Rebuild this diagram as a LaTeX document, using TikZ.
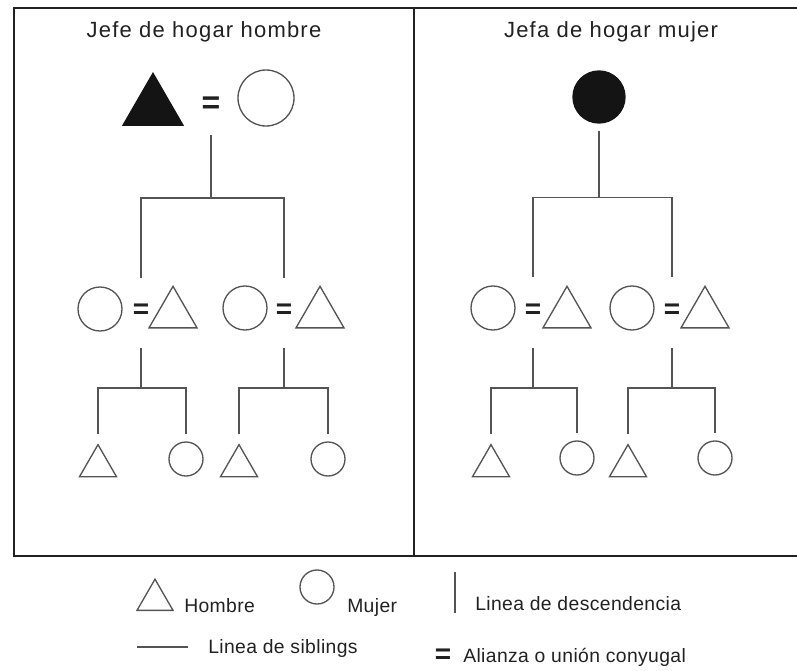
\documentclass[tikz,border=0pt]{standalone}
\usepackage{fontspec}
\setmainfont{Liberation Sans}
\newfontfamily\titulofont[LetterSpace=5.5]{Liberation Sans}
\newfontfamily\leyendafont[LetterSpace=2]{Liberation Sans}
\usepackage{tikz}
\usetikzlibrary{shapes,shapes.geometric}
\usetikzlibrary{calc,positioning}

\begin{document}
\begin{tikzpicture}[x=0.75pt,y=-0.75pt,
	hombre/.style={regular polygon,regular polygon sides=3,draw=trazo,line width=1pt,inner sep=0pt,minimum size=#1*0.75pt},
	mujer/.style={circle,draw=trazo,line width=1pt,inner sep=0pt,minimum size=#1*0.75pt},
	union/.style={inner sep=0pt,text=tinta,font=\fontsize{#1}{#1}\selectfont\bfseries},
	lazo/.style={draw=trazo,line width=0.9pt},
	marco/.style={draw=tinta,line width=1.5pt},
	titulo/.style={inner sep=0pt,text=tinta,font=\titulofont\fontsize{16.5}{19}\selectfont},
	leyenda/.style={inner sep=0pt,text=tinta,anchor=base west,font=\leyendafont\fontsize{14.5}{17}\selectfont}]
			\definecolor{tinta}{rgb}{0.13,0.13,0.13}
			\definecolor{trazo}{rgb}{0.33,0.33,0.33}
			\definecolor{negro}{rgb}{0.08,0.08,0.08}
				\useasboundingbox (0,0) rectangle (797,671);
				\draw [marco] (797,8) -- (14,8) -- (14,556) -- (797,556);
				\draw [marco] (414,8) -- (414,556);
			
				\node [titulo] (tL) at (204,32) {Jefe de hogar hombre};
				\node [hombre=69.3,fill=negro,draw=negro] (hL0) at (153,108) {};
				\node [union=24] (uL0) at (211,105) {=};
				\node [mujer=56] (mL0) at (266,98) {};
				\node [mujer=44] (mL1) at (100,309) {};
				\node [union=21] (uL1) at (141,311) {=};
				\node [hombre=55.4] (hL1) at (173,314) {};
				\node [mujer=44] (mL2) at (245,308) {};
				\node [union=21] (uL2) at (284,311) {=};
				\node [hombre=55.4] (hL2) at (320,314) {};
				\node [hombre=42.7] (hL3) at (98,466) {};
				\node [mujer=34] (mL3) at (186,459) {};
				\node [hombre=42.7] (hL4) at (239,466) {};
				\node [mujer=34] (mL4) at (328,459) {};
				\draw [lazo] (uL0) ++(0,30) -- ++(0,63) coordinate (barL0);
				\draw [lazo] ($(uL1)+(0,-33)$) |- (barL0) -| ($(uL2)+(0,-33)$);
				\draw [lazo] (uL1) ++(0,37) -- ++(0,40) coordinate (barL1);
				\draw [lazo] ($(hL3.north)+(0,-9)$) |- (barL1) -| ($(mL3.north)+(0,-7)$);
				\draw [lazo] (uL2) ++(0,37) -- ++(0,40) coordinate (barL2);
				\draw [lazo] ($(hL4.north)+(0,-9)$) |- (barL2) -| ($(mL4.north)+(0,-7)$);
			
				\node [titulo] (tR) at (611,32) {Jefa de hogar mujer};
				\node [mujer=52,fill=negro,draw=negro] (mR0) at (599,97) {};
				\node [mujer=44] (mR1) at (493,308) {};
				\node [union=21] (uR1) at (533,311) {=};
				\node [hombre=55.4] (hR1) at (567,314) {};
				\node [mujer=44] (mR2) at (632,308) {};
				\node [union=21] (uR2) at (672,311) {=};
				\node [hombre=55.4] (hR2) at (705,314) {};
				\node [hombre=42.7] (hR3) at (491,466) {};
				\node [mujer=34] (mR3) at (577,458) {};
				\node [hombre=42.7] (hR4) at (628,466) {};
				\node [mujer=34] (mR4) at (715,458) {};
				\draw [lazo] (mR0.south) ++(0,7) -- ++(0,67) coordinate (barR0);
				\draw [lazo] ($(uR1)+(0,-34)$) |- (barR0) -| ($(uR2)+(0,-34)$);
				\draw [lazo] (uR1) ++(0,37) -- ++(0,40) coordinate (barR1);
				\draw [lazo] ($(hR3.north)+(0,-9)$) |- (barR1) -| ($(mR3.north)+(0,-7)$);
				\draw [lazo] (uR2) ++(0,37) -- ++(0,40) coordinate (barR2);
				\draw [lazo] ($(hR4.north)+(0,-9)$) |- (barR2) -| ($(mR4.north)+(0,-7)$);
			
				\node [hombre=41.6] (lgH) at (155,600) {};
				\node [leyenda] (tH) at (184,612) {Hombre};
				\node [mujer=34] (lgM) at (317,587) {};
				\node [leyenda] (tM) at (347,612) {Mujer};
				\coordinate (lgD1) at (455,572);
				\coordinate (lgD2) at (455,613);
				\draw [lazo] (lgD1) -- (lgD2);
				\node [leyenda] (tD) at (475,610) {Linea de descendencia};
				\coordinate (lgS1) at (137,647);
				\coordinate (lgS2) at (188,647);
				\draw [lazo] (lgS1) -- (lgS2);
				\node [leyenda] (tS) at (208,653) {Linea de siblings};
				\node [union=21] (lgU) at (443,656) {=};
				\node [leyenda] (tA) at (463,662) {Alianza o unión conyugal};
		\end{tikzpicture}
\end{document}
